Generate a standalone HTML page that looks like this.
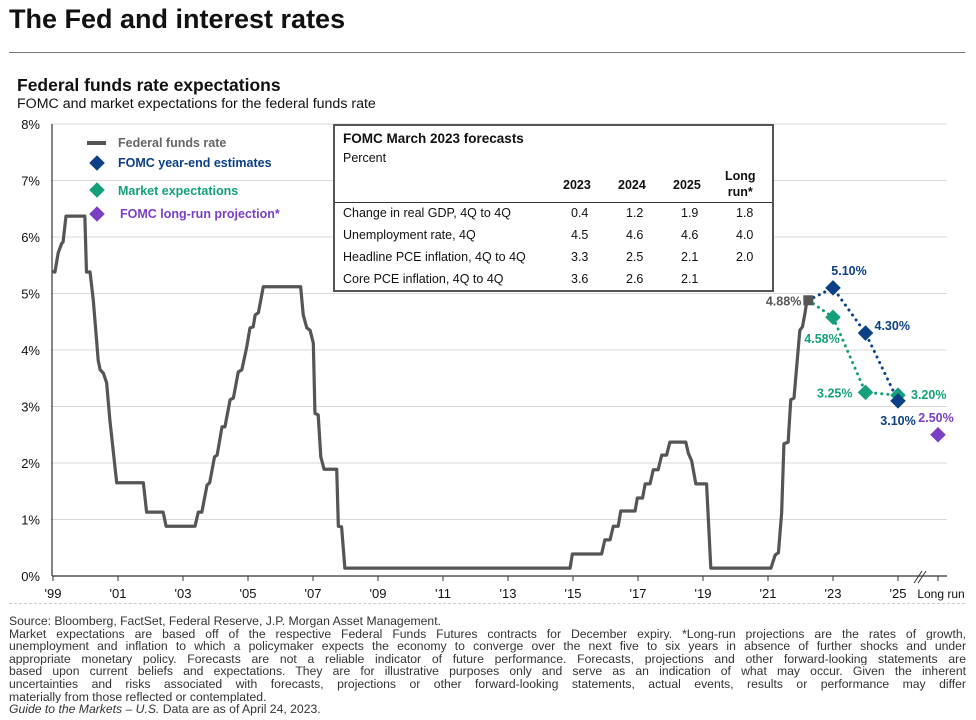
<!DOCTYPE html>
<html><head><meta charset="utf-8">
<style>
body{margin:0;width:976px;height:720px;background:#fff;font-family:"Liberation Sans",Arial,sans-serif;overflow:hidden;position:relative}
.t{position:absolute;white-space:nowrap}
.fn div{white-space:nowrap;height:12.6px;overflow:hidden}
.fn .j{text-align:justify;text-align-last:justify;white-space:normal}
</style></head>
<body>
<div class="t" style="left:9px;top:4px;font-size:27px;font-weight:bold;color:#111">The Fed and interest rates</div>
<div style="position:absolute;left:9px;top:52px;width:956px;height:1px;background:#777"></div>
<div class="t" style="left:17px;top:75px;font-size:17.5px;font-weight:bold;color:#111">Federal funds rate expectations</div>
<div class="t" style="left:17px;top:96px;font-size:14.2px;color:#111">FOMC and market expectations for the federal funds rate</div>

<svg id="chart" width="976" height="720" style="position:absolute;left:0;top:0" font-family="Liberation Sans, Arial, sans-serif"></svg>

<div style="position:absolute;left:333px;top:124px;width:437px;height:164px;border:2px solid #555;background:#fff;font-size:12.5px;color:#111">
 <div class="t" style="left:8px;top:5px;font-weight:bold;font-size:13.5px">FOMC March 2023 forecasts</div>
 <div class="t" style="left:8px;top:25px">Percent</div>
 <div class="t" style="left:228px;top:52px;font-weight:bold">2023</div>
 <div class="t" style="left:283px;top:52px;font-weight:bold">2024</div>
 <div class="t" style="left:338px;top:52px;font-weight:bold">2025</div>
 <div class="t" style="left:390px;top:42px;font-weight:bold;text-align:center;line-height:16px">Long<br>run*</div>
 <div style="position:absolute;left:0;top:76px;width:437px;height:1px;background:#333"></div>
 <div id="rows"></div>
</div>

<div style="position:absolute;left:9px;top:603px;width:956px;border-top:1px dashed #ccc"></div>
<div class="fn" style="position:absolute;left:9px;top:615px;width:957px;font-size:12.2px;line-height:12.6px;color:#333">
<div>Source: Bloomberg, FactSet, Federal Reserve, J.P. Morgan Asset Management.</div>
<div class="j">Market expectations are based off of the respective Federal Funds Futures contracts for December expiry. *Long-run projections are the rates of growth,</div>
<div class="j">unemployment and inflation to which a policymaker expects the economy to converge over the next five to six years in absence of further shocks and under</div>
<div class="j">appropriate monetary policy. Forecasts are not a reliable indicator of future performance. Forecasts, projections and other forward-looking statements are</div>
<div class="j">based upon current beliefs and expectations. They are for illustrative purposes only and serve as an indication of what may occur. Given the inherent</div>
<div class="j">uncertainties and risks associated with forecasts, projections or other forward-looking statements, actual events, results or performance may differ</div>
<div>materially from those reflected or contemplated.</div>
<div><i>Guide to the Markets – U.S.</i> Data are as of April 24, 2023.</div>
</div>

<script>
const rowLabels=["Change in real GDP, 4Q to 4Q","Unemployment rate, 4Q","Headline PCE inflation, 4Q to 4Q","Core PCE inflation, 4Q to 4Q"];
const rowValues=[["0.4","1.2","1.9","1.8"],["4.5","4.6","4.6","4.0"],["3.3","2.5","2.1","2.0"],["3.6","2.6","2.1",""]];
const ffYears=[1998.96,1999.06,1999.16,1999.27,1999.31,1999.40,1999.98,2000.03,2000.14,2000.24,2000.39,2000.45,2000.55,2000.65,2000.75,2000.96,2001.78,2001.88,2002.39,2002.48,2003.37,2003.47,2003.58,2003.74,2003.82,2003.97,2004.05,2004.20,2004.29,2004.45,2004.55,2004.70,2004.81,2004.96,2005.06,2005.16,2005.22,2005.32,2005.47,2006.62,2006.70,2006.81,2006.91,2007.01,2007.06,2007.16,2007.24,2007.34,2007.73,2007.78,2007.88,2007.98,2014.91,2014.98,2015.88,2015.98,2016.14,2016.24,2016.39,2016.47,2016.91,2016.98,2017.14,2017.22,2017.37,2017.47,2017.62,2017.73,2017.88,2017.98,2018.47,2018.55,2018.65,2018.78,2019.11,2019.24,2021.09,2021.22,2021.32,2021.42,2021.49,2021.62,2021.70,2021.80,2021.90,2021.98,2022.06,2022.14,2022.21];
const ffRates=[5.39,5.38,5.72,5.89,5.91,6.37,6.37,5.38,5.38,4.88,3.82,3.65,3.59,3.42,2.76,1.65,1.65,1.13,1.13,0.88,0.88,1.13,1.13,1.61,1.65,2.11,2.14,2.64,2.64,3.12,3.15,3.61,3.65,4.05,4.39,4.41,4.62,4.66,5.12,5.12,4.62,4.39,4.35,4.12,2.88,2.85,2.11,1.89,1.89,0.88,0.87,0.14,0.14,0.39,0.39,0.64,0.64,0.88,0.88,1.15,1.15,1.38,1.38,1.63,1.63,1.88,1.88,2.14,2.14,2.37,2.37,2.17,2.04,1.63,1.63,0.14,0.14,0.37,0.41,1.12,2.34,2.37,3.12,3.15,3.82,4.35,4.41,4.66,4.92];
const projYears=[2023,2024,2025];
const fomcValues=[5.10,4.30,3.10];
const marketValues=[4.58,3.25,3.20];
const fomcLabels=["5.10%","4.30%","3.10%"];
const marketLabels=["4.58%","3.25%","3.20%"];
const lastRate=4.88, lastRateLabel="4.88%";
const longRunValue=2.50, longRunLabel="2.50%";
const yTicks=[0,1,2,3,4,5,6,7,8];
const xTicks=[1999,2001,2003,2005,2007,2009,2011,2013,2015,2017,2019,2021,2023,2025];

const rows=document.getElementById('rows');
rowLabels.forEach((l,i)=>{
  const top=80+i*22;
  const d=document.createElement('div');d.className='t';d.style.left='8px';d.style.top=top+'px';d.textContent=l;
  
  
  rows.appendChild(d);
  rowValues[i].forEach((v,j)=>{
    const c=document.createElement('div');c.className='t';c.style.left=(236+j*55)+'px';c.style.top=top+'px';c.textContent=v;
    
    
    rows.appendChild(c);
  });
});

const svg=document.getElementById('chart');const NS='http://www.w3.org/2000/svg';
const X=y=>53+(y-1999)*32.5;
const Y=v=>576-v*56.5;
const LRX=938;
function el(tag,attrs,name){const e=document.createElementNS(NS,tag);for(const k in attrs)e.setAttribute(k,attrs[k]);svg.appendChild(e);return e;}
function txt(x,y,s,attrs,name){const t=el('text',Object.assign({x:x,y:y},attrs),name);t.textContent=s;return t;}
yTicks.forEach(v=>{
  if(v>0)el('line',{x1:51,x2:947,y1:Y(v),y2:Y(v),stroke:'#d9d9d9','stroke-width':1},'gridline');
  txt(40,Y(v)+5,v+'%',{'text-anchor':'end','font-size':13,fill:'#111'},'y-tick-label');
});
el('line',{x1:52,x2:52,y1:Y(8),y2:576,stroke:'#333','stroke-width':1.2},'y-axis');
el('line',{x1:52,x2:947,y1:576,y2:576,stroke:'#333','stroke-width':1.2},'x-axis');
xTicks.forEach(y=>{
  el('line',{x1:X(y),x2:X(y),y1:576,y2:581,stroke:'#333'},'x-tick');
  txt(X(y),598,"'"+String(y).slice(2),{'text-anchor':'middle','font-size':13,fill:'#111'},'x-tick-label');
});
el('line',{x1:LRX,x2:LRX,y1:576,y2:581,stroke:'#333'},'x-tick');
txt(LRX+3,598,'Long run',{'text-anchor':'middle','font-size':12,fill:'#111'},'x-tick-label-long-run');
el('path',{d:'M914,583 L922,571 M918,583 L926,571',stroke:'#333','stroke-width':1,fill:'none'},'axis-break');
el('polyline',{points:ffYears.map((y,i)=>X(y)+','+Y(ffRates[i])).join(' '),fill:'none',stroke:'#555','stroke-width':3.2,'stroke-linejoin':'round'},'fed-funds-line');
const lx=X(ffYears[ffYears.length-1])+1;
el('polyline',{points:[lx+','+Y(lastRate)].concat(projYears.map((y,i)=>X(y)+','+Y(fomcValues[i]))).join(' '),fill:'none',stroke:'#0b3f86','stroke-width':3,'stroke-dasharray':'0.1 6','stroke-linecap':'round'},'fomc-dotted-line');
el('polyline',{points:[lx+','+Y(lastRate)].concat(projYears.map((y,i)=>X(y)+','+Y(marketValues[i]))).join(' '),fill:'none',stroke:'#14a07a','stroke-width':3,'stroke-dasharray':'0.1 6','stroke-linecap':'round'},'market-dotted-line');
el('rect',{x:lx-5,y:Y(lastRate)-5,width:10,height:10,fill:'#555'},'last-rate-marker');
txt(lx-7,Y(lastRate)+5,lastRateLabel,{'text-anchor':'end','font-size':12.5,'font-weight':'bold',fill:'#555'},'last-rate-label');
function diamond(x,y,c,name){el('rect',{x:x-5.5,y:y-5.5,width:11,height:11,fill:c,transform:`rotate(45 ${x} ${y})`},name);}
const fomcOff=[[16,-13,'middle'],[9,-3,'start'],[0,24,'middle']];
const mktOff=[[-11,26,'middle'],[-13,5,'end'],[13,4,'start']];
projYears.forEach((y,i)=>{
  diamond(X(y),Y(marketValues[i]),'#14a07a','market-marker');
  diamond(X(y),Y(fomcValues[i]),'#0b3f86','fomc-marker');
});
projYears.forEach((y,i)=>{
  txt(X(y)+fomcOff[i][0],Y(fomcValues[i])+fomcOff[i][1],fomcLabels[i],{'text-anchor':fomcOff[i][2],'font-size':12.5,'font-weight':'bold',fill:'#0b3f86'},'fomc-value-label');
  txt(X(y)+mktOff[i][0],Y(marketValues[i])+mktOff[i][1],marketLabels[i],{'text-anchor':mktOff[i][2],'font-size':12.5,'font-weight':'bold',fill:'#14a07a'},'market-value-label');
});
diamond(LRX,Y(longRunValue),'#7b3fc4','long-run-marker');
txt(LRX-2,Y(longRunValue)-13,longRunLabel,{'text-anchor':'middle','font-size':12.5,'font-weight':'bold',fill:'#7b3fc4'},'long-run-label');
el('line',{x1:87,x2:106,y1:143,y2:143,stroke:'#555','stroke-width':4},'legend-ffr-swatch');
txt(118,147,'Federal funds rate',{'font-size':12.5,'font-weight':'bold',fill:'#666'},'legend-ffr');
diamond(97,163,'#0b3f86','legend-fomc-swatch');
txt(118,167,'FOMC year-end estimates',{'font-size':12.5,'font-weight':'bold',fill:'#0b3f86'},'legend-fomc');
diamond(97,190,'#14a07a','legend-market-swatch');
txt(118,195,'Market expectations',{'font-size':12.5,'font-weight':'bold',fill:'#14a07a'},'legend-market');
diamond(97,214,'#7b3fc4','legend-long-run-swatch');
txt(120,218,'FOMC long-run projection*',{'font-size':12.5,'font-weight':'bold',fill:'#7b3fc4'},'legend-long-run');
</script>
</body></html>
